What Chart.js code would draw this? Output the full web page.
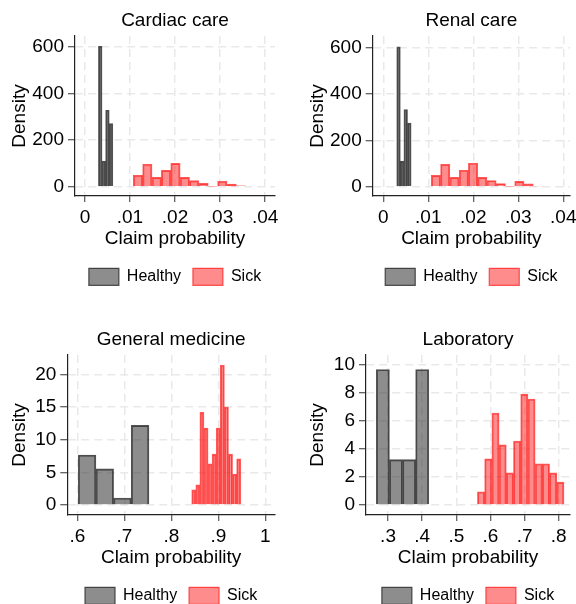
<!DOCTYPE html>
<html>
<head>
<meta charset="utf-8">
<script src="https://cdn.jsdelivr.net/npm/chart.js@4.4.1/dist/chart.umd.min.js"></script>
<style>
  html, body { margin: 0; padding: 0; background: #fff; }
  #wrap { position: relative; width: 576px; height: 604px; overflow: hidden; background: #fff; }
  #wrap canvas { position: absolute; }
</style>
</head>
<body>
<div id="wrap">
  <canvas id="cardiac" width="288" height="302" style="left:0;top:0"></canvas>
  <canvas id="renal" width="288" height="302" style="left:288px;top:0"></canvas>
  <canvas id="genmed" width="288" height="302" style="left:0;top:319px"></canvas>
  <canvas id="lab" width="288" height="302" style="left:288px;top:319px"></canvas>
</div>
<script>
// histogram bins: midpoints and densities, read per group
const cardiacHealthyMid = [0.0034, 0.0042, 0.0050, 0.0058];
const cardiacHealthyDen = [603, 110, 328, 271];
const cardiacSickMid = [0.01178, 0.01386, 0.01594, 0.01802, 0.0201, 0.02218, 0.02426, 0.02634, 0.02842, 0.0305, 0.03258, 0.03466];
const cardiacSickDen = [49, 96, 40, 70, 100, 40, 26, 14, 2, 23, 11, 4];

const renalHealthyMid = [0.00338, 0.00418, 0.00498, 0.00578];
const renalHealthyDen = [603, 111, 333, 275];
const renalSickMid = [0.0117, 0.01376, 0.01582, 0.01788, 0.01994, 0.022, 0.02406, 0.02612, 0.02818, 0.03024, 0.0323, 0.03436];
const renalSickDen = [49, 97, 40, 71, 101, 40, 27, 14, 2, 23, 12, 3];

const genmedHealthyMid = [0.6208, 0.6584, 0.696, 0.7336];
const genmedHealthyDen = [7.67, 5.54, 1.07, 12.2];
const genmedSickMid = [0.84775, 0.85644, 0.86513, 0.87382, 0.88251, 0.8912, 0.89989, 0.90858, 0.91727, 0.92596, 0.93465, 0.94334];
const genmedSickDen = [2.34, 3.10, 14.2, 11.8, 6.3, 7.8, 11.8, 21.4, 15.0, 7.8, 4.7, 7.06];

const labHealthyMid = [0.2849, 0.3233, 0.3617, 0.4001];
const labHealthyDen = [9.69, 3.25, 3.25, 9.69];
const labSickMid = [0.57246, 0.59358, 0.6147, 0.63582, 0.65694, 0.67806, 0.69918, 0.7203, 0.74142, 0.76254, 0.78366, 0.80478];
const labSickDen = [0.95, 3.30, 6.58, 4.30, 2.30, 4.58, 7.93, 7.58, 2.95, 2.95, 2.30, 1.64];

// tick labels
const probTicksSmall = [0, 0.01, 0.02, 0.03, 0.04];
const probTicksGenmed = [0.6, 0.7, 0.8, 0.9, 1];
const probTicksLab = [0.3, 0.4, 0.5, 0.6, 0.7, 0.8];
const denTicksCare = [0, 200, 400, 600];
const denTicksGenmed = [0, 5, 10, 15, 20];
const denTicksLab = [0, 2, 4, 6, 8, 10];

const groupLabels = ["Healthy", "Sick"];

Chart.defaults.font.family = "'Liberation Sans', Arial, sans-serif";
Chart.defaults.color = "#000";

const fmtProb = (v) => (v === 0 ? "0" : String(v).replace(/^0\./, "."));

const toPoints = (mids, dens) => mids.map((x, i) => ({ x: x, y: dens[i] }));

const makePanel = (id, p) => {
  const setTicks = (list) => (scale) => {
    scale.ticks = list.map((v) => ({ value: v }));
  };
  return new Chart(document.getElementById(id), {
    type: "bar",
    data: {
      datasets: [
        {
          label: groupLabels[0],
          data: toPoints(p.healthyMid, p.healthyDen),
          xAxisID: "xh",
          backgroundColor: "rgba(40,40,40,0.53)",
          borderColor: "rgba(40,40,40,0.8)",
          borderWidth: 1.2,
          barPercentage: 1,
          categoryPercentage: 1,
          grouped: false,
        },
        {
          label: groupLabels[1],
          data: toPoints(p.sickMid, p.sickDen),
          xAxisID: "x",
          backgroundColor: "rgba(255,0,0,0.45)",
          borderColor: "rgba(255,20,20,0.7)",
          borderWidth: 1.2,
          barPercentage: 1,
          categoryPercentage: 1,
          grouped: false,
        },
      ],
    },
    options: {
      responsive: false,
      animation: false,
      devicePixelRatio: 1,
      layout: { padding: { left: 0, right: p.padRight, top: 0, bottom: 6.7 } },
      plugins: {
        tooltip: { enabled: false },
        title: {
          display: true,
          text: p.title,
          fullSize: false,
          font: { size: 19, weight: "normal" },
          color: "#000",
          padding: { top: 9, bottom: 4.2 },
        },
        legend: {
          position: "bottom",
          fullSize: false,
          labels: {
            boxWidth: 30,
            boxHeight: 17,
            padding: 11.8,
            color: "#000",
            font: { size: 16 },
          },
        },
      },
      scales: {
        x: {
          type: "linear",
          min: p.xMin,
          max: p.xMax,
          offset: false,
          afterBuildTicks: setTicks(p.xTicks),
          // fixed axis band; end labels may hang past the plot edge
          afterFit: (s) => {
            s.height = 60.5;
            s.paddingLeft = 0;
            s.paddingRight = 0;
          },
          ticks: {
            autoSkip: false,
            maxRotation: 0,
            padding: 4,
            font: { size: 19 },
            color: "#000",
            callback: (v) => fmtProb(v),
          },
          grid: {
            offset: false,
            color: "#e9e9e9",
            lineWidth: 1.5,
            tickLength: 6,
            tickColor: "#333",
            tickWidth: 1,
          },
          border: { color: "#222", width: 1.2, dash: [8, 5] },
          title: {
            display: true,
            text: "Claim probability",
            font: { size: 19 },
            color: "#000",
            padding: { top: 0, bottom: 6.6 },
          },
        },
        xh: {
          type: "linear",
          display: false,
          min: p.xMin,
          max: p.xMax,
          offset: false,
          afterBuildTicks: (s) => { s.ticks = [{ value: p.xMin }]; },
        },
        y: {
          type: "linear",
          min: p.yMin,
          max: p.yMax,
          afterBuildTicks: setTicks(p.yTicks),
          afterFit: (s) => {
            s.width = p.yWidth;
            s.paddingTop = 0;
            s.paddingBottom = 0;
          },
          ticks: {
            autoSkip: false,
            padding: 4,
            font: { size: 19 },
            color: "#000",
          },
          grid: {
            color: "#e9e9e9",
            lineWidth: 1.5,
            tickLength: 7,
            tickColor: "#333",
            tickWidth: 1,
          },
          border: { color: "#222", width: 1.2, dash: [8, 5] },
          title: {
            display: true,
            text: "Density",
            font: { size: 19 },
            color: "#000",
            padding: { top: p.yTitlePad, bottom: 0 },
          },
        },
      },
    },
  });
};

makePanel("cardiac", {
  title: "Cardiac care",
  healthyMid: cardiacHealthyMid, healthyDen: cardiacHealthyDen,
  sickMid: cardiacSickMid, sickDen: cardiacSickDen,
  xMin: -0.0022, xMax: 0.0422, xTicks: probTicksSmall,
  yMin: -40, yMax: 647, yTicks: denTicksCare,
  yWidth: 75, yTitlePad: 8, padRight: 13,
});

makePanel("renal", {
  title: "Renal care",
  healthyMid: renalHealthyMid, healthyDen: renalHealthyDen,
  sickMid: renalSickMid, sickDen: renalSickDen,
  xMin: -0.00236, xMax: 0.0415, xTicks: probTicksSmall,
  yMin: -40, yMax: 650, yTicks: denTicksCare,
  yWidth: 84.7, yTitlePad: 18.6, padRight: 6,
});

makePanel("genmed", {
  title: "General medicine",
  healthyMid: genmedHealthyMid, healthyDen: genmedHealthyDen,
  sickMid: genmedSickMid, sickDen: genmedSickDen,
  xMin: 0.5787, xMax: 1.0206, xTicks: probTicksGenmed,
  yMin: -1.52, yMax: 22.97, yTicks: denTicksGenmed,
  yWidth: 67.3, yTitlePad: 8, padRight: 13,
});

makePanel("lab", {
  title: "Laboratory",
  healthyMid: labHealthyMid, healthyDen: labHealthyDen,
  sickMid: labSickMid, sickDen: labSickDen,
  xMin: 0.2355, xMax: 0.833, xTicks: probTicksLab,
  yMin: -0.71, yMax: 10.73, yTicks: denTicksLab,
  yWidth: 78, yTitlePad: 18.6, padRight: 6,
});
</script>
</body>
</html>
